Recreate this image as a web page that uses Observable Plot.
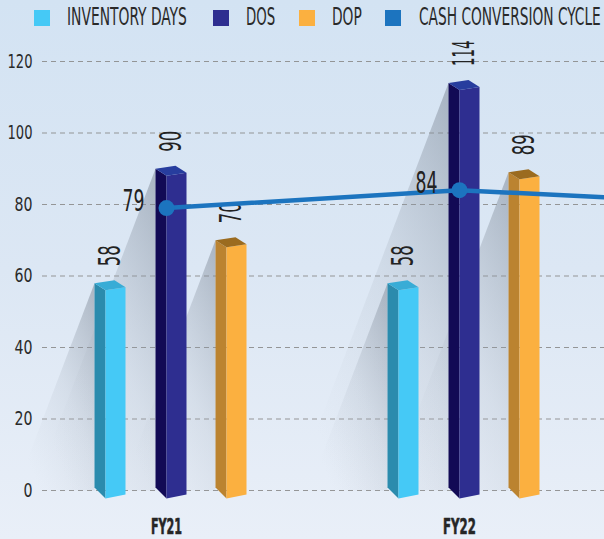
<!DOCTYPE html>
<html><head><meta charset="utf-8">
<script src="https://cdn.jsdelivr.net/npm/d3@7"></script>
<script src="https://cdn.jsdelivr.net/npm/@observablehq/plot@0.6"></script>
<style>
html,body{margin:0;padding:0;width:604px;height:539px;overflow:hidden;}
body{background:linear-gradient(180deg,#d3e3f3 0%,#dce7f4 50%,#e9eff8 100%);font-family:"Liberation Sans Narrow","DejaVu Sans Condensed",sans-serif;}
#legend{position:relative;height:36px;}
.sw{position:absolute;top:10px;width:16px;height:16px;}
.lt{position:absolute;top:5px;font-size:24px;line-height:1;color:#2a2a2a;transform-origin:0 0;white-space:nowrap;}
#chart svg{display:block;overflow:visible;}
</style></head><body>
<div id="legend"></div>
<div id="chart"></div>
<script>
// ---- data ----
const years = ["FY21", "FY22"];
const inventoryDays = [58, 58];
const dos = [90, 114];
const dop = [70, 89];
// cash conversion cycle; the FY23 point lies beyond the cropped right edge
const cccYears = ["FY21", "FY22", "FY23"];
const ccc = [79, 84, 80];
const yTicks = [0, 20, 40, 60, 80, 100, 120];
const seriesNames = ["INVENTORY DAYS", "DOS", "DOP", "CASH CONVERSION CYCLE"];
const seriesColors = ["#45c9f6", "#2e2e90", "#fbb040", "#1c74bf"];
const sideColors = ["#2b8bad", "#120a55", "#bb8330"];
const topColors = ["#38acd6", "#273d9e", "#9b6b1f"];

// ---- legend ----
const legend = document.getElementById("legend");
const swX = [34, 213, 299, 385], txX = [67, 246, 332, 419], txW = [120, 29, 30, 182];
seriesNames.forEach((n, i) => {
  const s = document.createElement("div");
  s.className = "sw"; s.style.left = swX[i] + "px"; s.style.background = seriesColors[i];
  legend.appendChild(s);
  const t = document.createElement("div");
  t.className = "lt"; t.style.left = txX[i] + "px"; t.textContent = n;
  legend.appendChild(t);
  const w = t.offsetWidth || 1;
  t.style.transform = `scaleX(${txW[i] / w})`;
});

// ---- geometry helpers ----
const W = 604, H = 503, mT = 25, mB = 49, mL = 42;
const step = 293, x0 = 166;
const xDomain = [-0.5, 2.5];
const xRange = [x0 - 0.5 * step, x0 + 2.5 * step];
const k = (H - mT - mB) / 120;          // px per value unit
const toDX = px => px / step;
const toDY = px => -px / k;
const offsets = [-61, 0, 60];

const seriesVals = [inventoryDays, dos, dop];
const faces = [], shadows = [], vlabels = [];
seriesVals.forEach((vals, s) => vals.forEach((v, i) => {
  const e = i + toDX(offsets[s]);
  const P = (dxp, yv, dyp) => ({x: e + toDX(dxp), y: yv + toDY(dyp)});
  const id = s + "-" + i;
  const hpx = v * k;
  shadows.push(...[P(-11, v, 0), P(-11, 0, 0), P(-11 - 0.38 * hpx, 0, 0)].map(p => ({...p, id})));
  faces.push(...[P(-11, v, 0), P(0, v, 7), P(0, 0, 8), P(-11, 0, -3)].map(p => ({...p, id: id + "s", c: sideColors[s]})));
  faces.push(...[P(0, v, 7), P(20, v, 4), P(20, 0, 4), P(0, 0, 8)].map(p => ({...p, id: id + "f", c: seriesColors[s]})));
  faces.push(...[P(-11, v, 0), P(9, v, -3), P(20, v, 4), P(0, v, 7)].map(p => ({...p, id: id + "t", c: topColors[s]})));
  vlabels.push({x: e + toDX(5), y: v, t: String(v)});
}));
const cccData = ccc.map((v, i) => ({x: i, y: v, t: String(v), yr: cccYears[i]}));
const cccShown = cccData.filter(d => years.includes(d.yr));

const svg = Plot.plot({
  width: W, height: H,
  marginTop: mT, marginBottom: mB, marginLeft: mL, marginRight: 0,
  x: {domain: xDomain, range: xRange, axis: null},
  y: {domain: [0, 120]},
  color: {type: "identity"},
  style: {background: "transparent", fontFamily: '"Liberation Sans Narrow","DejaVu Sans Condensed",sans-serif', color: "#2a2a2a"},
  marks: [
    Plot.gridY(yTicks, {stroke: "#8c8c8c", strokeOpacity: 0.9, strokeWidth: 1.2, strokeDasharray: "5,4"}),
    Plot.axisY(yTicks, {tickSize: 0, tickPadding: 10, fontSize: 20, label: null, fill: "#2a2a2a"}),
    Plot.line(shadows, {x: "x", y: "y", z: "id", fill: "url(#shadowGrad)", stroke: "none"}),
    Plot.line(faces, {x: "x", y: "y", z: "id", fill: "c", stroke: "none"}),
    Plot.text(vlabels, {x: "x", y: "y", text: "t", rotate: -90, textAnchor: "start", dy: -17, fontSize: 30, fill: "#222"}),
    Plot.line(cccData, {x: "x", y: "y", stroke: seriesColors[3], strokeWidth: 4.5}),
    Plot.dot(cccData, {x: "x", y: "y", r: 8, fill: seriesColors[3]}),
    Plot.text(cccShown, {x: "x", y: "y", text: "t", textAnchor: "end", lineAnchor: "bottom", dx: -22, dy: 3, fontSize: 30, fill: "#222"}),
    Plot.text(years, {x: (d, i) => i, y: () => 0, text: d => d, dy: 36, fontSize: 22, fontWeight: 900, fill: "#262626", stroke: "#262626", strokeWidth: 0.6})
  ]
});
svg.style.maxWidth = "none";

// gradient for bar shadows
const defs = d3.select(svg).insert("defs", ":first-child");
const g = defs.append("linearGradient").attr("id", "shadowGrad")
  .attr("x1", 1).attr("y1", 0.05).attr("x2", 0.2).attr("y2", 0.9);
g.append("stop").attr("offset", 0).attr("stop-color", "#7d8795").attr("stop-opacity", 0.5);
g.append("stop").attr("offset", 0.5).attr("stop-color", "#9aa4b1").attr("stop-opacity", 0.18);
g.append("stop").attr("offset", 1).attr("stop-color", "#b5bdc8").attr("stop-opacity", 0);

// condensed lettering: fix each label's drawn length
const charW = (str, d, one) => [...str].reduce((a, c) => a + (c === "1" ? one : d), 0);
d3.select(svg).selectAll("text").each(function () {
  const str = this.textContent;
  const fs = +(this.getAttribute("font-size") || this.parentNode.getAttribute("font-size") || 0);
  let len;
  if (/^FY/.test(str)) len = charW(str, 8.2, 6.5);
  else if (this.getAttribute("transform") && /rotate/.test(this.getAttribute("transform"))) len = charW(str, 10.5, 7.5);
  else if (fs >= 28 || /30/.test(this.parentNode.getAttribute("font-size") || "")) len = charW(str, 11, 8);
  else len = charW(str, 9, 7);
  this.setAttribute("textLength", len);
  this.setAttribute("lengthAdjust", "spacingAndGlyphs");
});

document.getElementById("chart").appendChild(svg);
</script>
</body></html>
